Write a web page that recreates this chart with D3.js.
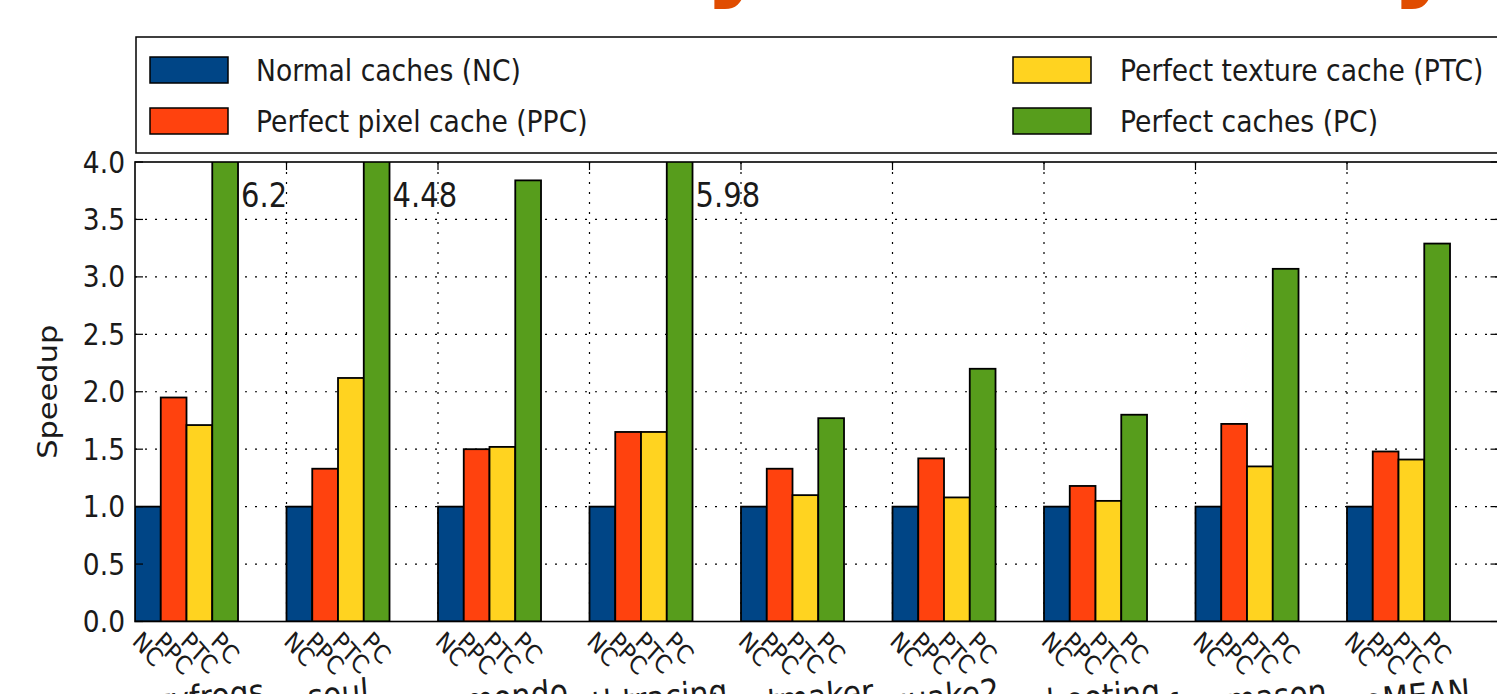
<!DOCTYPE html>
<html>
<head>
<meta charset="utf-8">
<script src="https://cdn.jsdelivr.net/npm/d3@7/dist/d3.min.js"></script>
<style>
body { margin: 0; background: #fff; }
text { font-family: "DejaVu Sans", sans-serif; fill: #1a1a1a; }
</style>
</head>
<body>
<div id="chart"></div>
<script>
// data
var benchmarks = ['crazyfrogs', 'soul', 'ecomondo', 'pathtracing', 'beatmaker', 'quake2', 'shooting', 'freemason', 'geoMEAN'];
var seriesNames = ['Normal caches (NC)', 'Perfect pixel cache (PPC)', 'Perfect texture cache (PTC)', 'Perfect caches (PC)'];
var seriesShort = ['NC', 'PPC', 'PTC', 'PC'];
var seriesColors = ['#004586', '#ff420e', '#ffd320', '#579d1c'];
var ncValues  = [1.00, 1.00, 1.00, 1.00, 1.00, 1.00, 1.00, 1.00, 1.00];
var ppcValues = [1.95, 1.33, 1.50, 1.65, 1.33, 1.42, 1.18, 1.72, 1.48];
var ptcValues = [1.71, 2.12, 1.52, 1.65, 1.10, 1.08, 1.05, 1.35, 1.41];
var pcValues  = [6.20, 4.48, 3.84, 5.98, 1.77, 2.20, 1.80, 3.07, 3.29];
var yTicks = [0, 0.5, 1, 1.5, 2, 2.5, 3, 3.5, 4];
var titleGlyphs = ['y', 'y'];   // only the descenders of the title show at the top

var series = [ncValues, ppcValues, ptcValues, pcValues];

// the original picture is stretched vertically, so text is too
var W = 1497, H = 694, S = 1.15;
var plot = {left: 135, right: 1498.5, top: 162, bottom: 621.5};
var barW = 0.17;

var svg = d3.select('#chart').append('svg').attr('width', W).attr('height', H);

var x = d3.scaleLinear().domain([0, benchmarks.length]).range([plot.left, plot.right]);
var y = d3.scaleLinear().domain([0, 4]).range([plot.bottom, plot.top]);

function stretch(px, py, rot) {
    return 'translate(' + px + ',' + py + ') scale(1,' + S + ')' + (rot ? ' rotate(' + rot + ')' : '');
}

// title descenders peeking in at the top
svg.selectAll('.title').data(titleGlyphs).enter().append('text')
    .attr('class', 'title')
    .attr('transform', function (d, i) { return stretch(i === 0 ? 704 : 1391, -17); })
    .style('font-size', '104px').style('font-weight', 'bold').style('fill', '#e04c00')
    .text(function (d) { return d; });

// legend box
var leg = {left: 136, top: 37, bottom: 153, right: plot.right};
svg.append('rect').attr('x', leg.left).attr('y', leg.top)
    .attr('width', leg.right - leg.left).attr('height', leg.bottom - leg.top)
    .attr('fill', '#fff').attr('stroke', '#000').attr('stroke-width', 1.5);

var legPos = [
    {sx: 150, tx: 256, cy: 70}, {sx: 150, tx: 256, cy: 121},
    {sx: 1013, tx: 1120, cy: 70}, {sx: 1013, tx: 1120, cy: 121}
];
var legItems = svg.selectAll('.leg').data(seriesNames).enter().append('g').attr('class', 'leg');
legItems.append('rect')
    .attr('x', function (d, i) { return legPos[i].sx; })
    .attr('y', function (d, i) { return legPos[i].cy - 13; })
    .attr('width', 78).attr('height', 26)
    .attr('fill', function (d, i) { return seriesColors[i]; })
    .attr('stroke', '#000').attr('stroke-width', 1.5);
legItems.append('text')
    .attr('transform', function (d, i) { return stretch(legPos[i].tx, legPos[i].cy + 10.8); })
    .style('font-size', '26.6px')
    .text(function (d) { return d; });

// grid
var grid = svg.append('g').attr('stroke', '#000').attr('stroke-width', 1.2).attr('stroke-dasharray', '2,8');
grid.selectAll('.hg').data(yTicks.slice(1, -1)).enter().append('line')
    .attr('x1', plot.left).attr('x2', plot.right)
    .attr('y1', function (d) { return y(d); }).attr('y2', function (d) { return y(d); });
grid.selectAll('.vg').data(d3.range(1, benchmarks.length)).enter().append('line')
    .attr('y1', plot.top).attr('y2', plot.bottom)
    .attr('x1', function (d) { return x(d); }).attr('x2', function (d) { return x(d); });

// bars, clipped to the axes
svg.append('clipPath').attr('id', 'clip').append('rect')
    .attr('x', plot.left).attr('y', plot.top)
    .attr('width', plot.right - plot.left).attr('height', plot.bottom - plot.top);

var bars = svg.append('g').attr('clip-path', 'url(#clip)');
series.forEach(function (vals, j) {
    bars.selectAll('.s' + j).data(vals).enter().append('rect')
        .attr('x', function (d, i) { return x(i + j * barW); })
        .attr('width', x(barW) - x(0))
        .attr('y', function (d) { return y(d); })
        .attr('height', function (d) { return y(0) - y(d); })
        .attr('fill', seriesColors[j])
        .attr('stroke', '#000').attr('stroke-width', 1.8);
});

// values that go off the top
var over = pcValues.map(function (v, i) { return {v: v, i: i}; }).filter(function (d) { return d.v > 4; });
svg.selectAll('.over').data(over).enter().append('text')
    .attr('transform', function (d) { return stretch(x(d.i + 4 * barW) + 3, y(3.7) + 11); })
    .style('font-size', '29px')
    .text(function (d) { return d.v; });

// frame and ticks
svg.append('rect').attr('x', plot.left).attr('y', plot.top)
    .attr('width', plot.right - plot.left).attr('height', plot.bottom - plot.top)
    .attr('fill', 'none').attr('stroke', '#000').attr('stroke-width', 1.6);

var ticks = svg.append('g').attr('stroke', '#000').attr('stroke-width', 1.2);
yTicks.forEach(function (t) {
    ticks.append('line').attr('x1', plot.left).attr('x2', plot.left + 8).attr('y1', y(t)).attr('y2', y(t));
    ticks.append('line').attr('x1', plot.right - 8).attr('x2', plot.right).attr('y1', y(t)).attr('y2', y(t));
});
d3.range(1, benchmarks.length).forEach(function (k) {
    ticks.append('line').attr('x1', x(k)).attr('x2', x(k)).attr('y1', plot.top).attr('y2', plot.top + 8);
});

svg.selectAll('.ylab').data(yTicks).enter().append('text')
    .attr('transform', function (d) { return stretch(125, y(d) + 10.5); })
    .attr('text-anchor', 'end')
    .style('font-size', '26.5px')
    .text(function (d) { return d3.format('.1f')(d); });

svg.append('text')
    .attr('transform', stretch(49, (plot.top + plot.bottom) / 2, -90))
    .attr('text-anchor', 'middle').attr('dy', '0.3em')
    .style('font-size', '26.5px')
    .text('Speedup');

// short series labels under each bar, turned 45 degrees, top-aligned
var shortSize = 22, emH = 1.164;
benchmarks.forEach(function (b, i) {
    seriesShort.forEach(function (s, j) {
        var t = svg.append('text')
            .attr('text-anchor', 'middle').attr('dy', '0.346em')
            .style('font-size', shortSize + 'px')
            .text(s);
        var L = t.node().getComputedTextLength();
        var half = (L + emH * shortSize) * Math.SQRT1_2 / 2 * S;
        t.attr('transform', stretch(x(i + (j + 0.5) * barW), 626 + half, 45));
    });
});

// benchmark names, tilted, top-aligned
var nameSize = 30, tiltDeg = 5, tilt = tiltDeg * Math.PI / 180;
svg.selectAll('.bname').data(benchmarks).enter().append('text')
    .attr('class', 'bname')
    .attr('text-anchor', 'middle').attr('dy', '0.346em')
    .style('font-size', nameSize + 'px')
    .text(function (d) { return d; })
    .each(function (d, i) {
        var L = this.getComputedTextLength();
        var half = (L * Math.sin(tilt) + emH * nameSize * Math.cos(tilt)) / 2 * S;
        d3.select(this).attr('transform', stretch(x(i + 2 * barW), 671 + half, -tiltDeg));
    });
</script>
</body>
</html>
